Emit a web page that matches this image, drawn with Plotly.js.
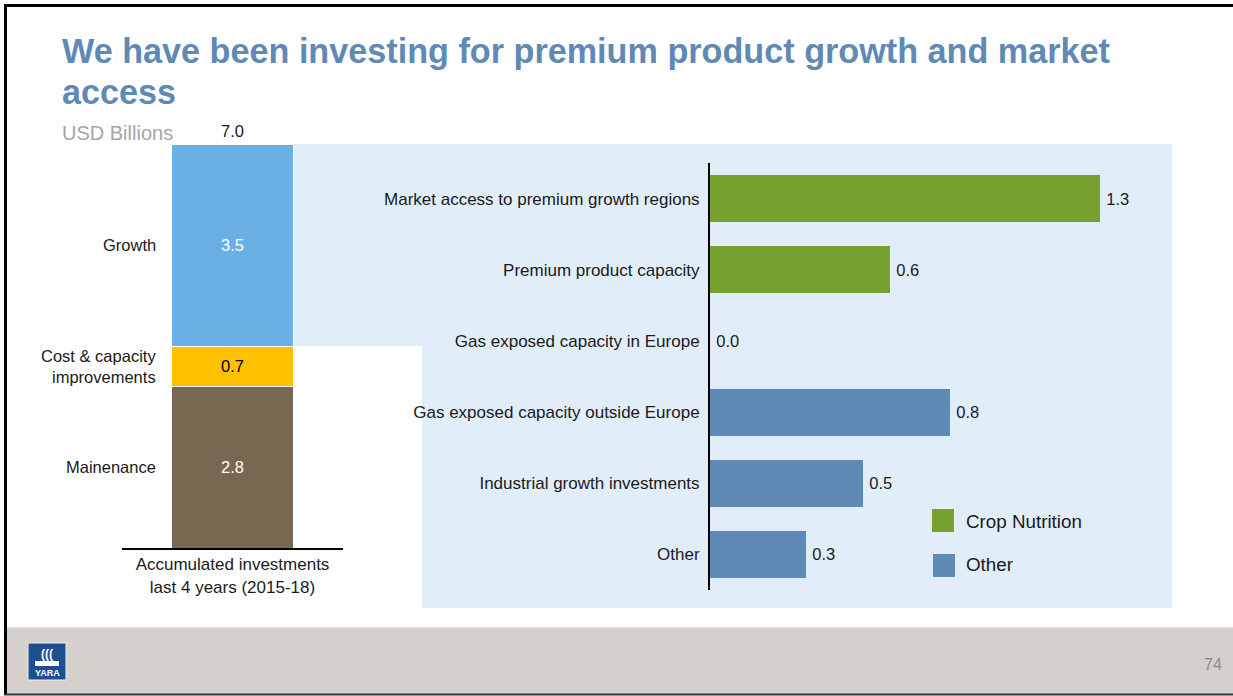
<!DOCTYPE html>
<html>
<head>
<meta charset="utf-8">
<script src="https://cdn.plot.ly/plotly-3.0.1.min.js"></script>
<style>
  html, body { margin: 0; padding: 0; background: #ffffff; }
  #chart { width: 1233px; height: 696px; }
</style>
</head>
<body>
<div id="chart"></div>
<script>
// ---------- Data ----------
const titleLines = ['We have been investing for premium product growth and market', 'access'];
const stackCategory = ['Accumulated investments<br>last 4 years (2015-18)'];
const stackNames = ['Mainenance', 'Cost & capacity<br>improvements', 'Growth'];
const stackValues = [2.8, 0.7, 3.5];
const stackColors = ['#7a6751', '#ffc000', '#6ab0e4'];
const stackTextColors = ['#ffffff', '#000000', '#ffffff'];

const barCategories = [
  'Market access to premium growth regions',
  'Premium product capacity',
  'Gas exposed capacity in Europe',
  'Gas exposed capacity outside Europe',
  'Industrial growth investments',
  'Other'
];
const cropCategories = ['Market access to premium growth regions', 'Premium product capacity'];
const cropValues = [1.30, 0.60];
const otherCategories = ['Gas exposed capacity in Europe', 'Gas exposed capacity outside Europe', 'Industrial growth investments', 'Other'];
const otherValues = [0.0, 0.80, 0.51, 0.32];
const legendNames = ['Crop Nutrition', 'Other'];

// ---------- Helpers (pixel -> paper) ----------
const W = 1233, H = 696;
const px = x => x / W;
const py = y => 1 - y / H;
const FONT = 'Liberation Sans, Arial, sans-serif';
const TXT = '#1a1a1a';

// ---------- Traces ----------
const traces = [];
stackValues.forEach((v, i) => {
  traces.push({
    type: 'bar', x: stackCategory, y: [v], name: stackNames[i],
    xaxis: 'x2', yaxis: 'y2', width: 0.552,
    marker: { color: stackColors[i], line: { color: '#ffffff', width: 1 } },
    text: [v.toFixed(1)], textposition: 'inside', insidetextanchor: 'middle',
    textangle: 0,
    textfont: { family: FONT, size: 16.5, color: stackTextColors[i] },
    showlegend: false, hoverinfo: 'skip'
  });
});
traces.push({
  type: 'bar', orientation: 'h', y: cropCategories, x: cropValues, name: legendNames[0],
  xaxis: 'x', yaxis: 'y', width: 0.66,
  marker: { color: '#78a22f' },
  texttemplate: '\u2009%{x:.1f}', textposition: 'outside', cliponaxis: false,
  textfont: { family: FONT, size: 16.5, color: TXT },
  showlegend: false, hoverinfo: 'skip'
});
traces.push({
  type: 'bar', orientation: 'h', y: otherCategories, x: otherValues, name: legendNames[1],
  xaxis: 'x', yaxis: 'y', width: 0.66,
  marker: { color: '#5f8ab5' },
  texttemplate: '\u2009%{x:.1f}', textposition: 'outside', cliponaxis: false,
  textfont: { family: FONT, size: 16.5, color: TXT },
  showlegend: false, hoverinfo: 'skip'
});

// ---------- Annotations ----------
const annotations = [];
// title (two lines)
annotations.push({
  xref: 'paper', yref: 'paper', x: px(60), y: py(51),
  xanchor: 'left', yanchor: 'middle', showarrow: false,
  text: '<b>' + titleLines[0] + '</b>', font: { family: FONT, size: 34.2, color: '#5f8ab5' }
});
annotations.push({
  xref: 'paper', yref: 'paper', x: px(60), y: py(92),
  xanchor: 'left', yanchor: 'middle', showarrow: false,
  text: '<b>' + titleLines[1] + '</b>', font: { family: FONT, size: 34.2, color: '#5f8ab5' }
});
// left stacked category labels
let cum = 0;
stackValues.forEach((v, i) => {
  annotations.push({
    xref: 'paper', yref: 'y2', x: px(158), y: cum + v / 2,
    xanchor: 'right', yanchor: 'middle', showarrow: false, align: 'right',
    text: stackNames[i], font: { family: FONT, size: 16.5, color: TXT }
  });
  cum += v;
});
// total
const total = stackValues.reduce((a, b) => a + b, 0);
annotations.push({
  xref: 'x2', yref: 'y2', x: stackCategory[0], y: total,
  xanchor: 'center', yanchor: 'bottom', yshift: 2, showarrow: false,
  text: total.toFixed(1), font: { family: FONT, size: 16.5, color: TXT }
});
// units
annotations.push({
  xref: 'paper', yref: 'paper', x: px(60), y: py(133),
  xanchor: 'left', yanchor: 'middle', showarrow: false,
  text: 'USD Billions', font: { family: FONT, size: 20, color: '#a6a6a6' }
});
// legend texts
annotations.push({
  xref: 'paper', yref: 'paper', x: px(964), y: py(521),
  xanchor: 'left', yanchor: 'middle', showarrow: false,
  text: legendNames[0], font: { family: FONT, size: 18.8, color: TXT }
});
annotations.push({
  xref: 'paper', yref: 'paper', x: px(964), y: py(564),
  xanchor: 'left', yanchor: 'middle', showarrow: false,
  text: legendNames[1], font: { family: FONT, size: 18.8, color: TXT }
});
// page number
annotations.push({
  xref: 'paper', yref: 'paper', x: px(1213), y: py(664),
  xanchor: 'center', yanchor: 'middle', showarrow: false,
  text: '74', font: { family: 'Liberation Sans Narrow, ' + FONT, size: 16, color: '#8c8c8c' }
});
// logo text
annotations.push({
  xref: 'paper', yref: 'paper', x: px(47), y: py(654),
  xanchor: 'center', yanchor: 'middle', showarrow: false,
  text: '<b>(((</b>', font: { family: FONT, size: 12, color: '#ffffff' }
});
annotations.push({
  xref: 'paper', yref: 'paper', x: px(47), y: py(673),
  xanchor: 'center', yanchor: 'middle', showarrow: false,
  text: '<b>YARA</b>', font: { family: FONT, size: 9, color: '#ffffff' }
});

// ---------- Shapes ----------
const shapes = [
  // light-blue panel
  { type: 'rect', xref: 'paper', yref: 'paper', x0: px(293), x1: px(1172), y0: py(346), y1: py(144),
    fillcolor: '#e1eef9', line: { width: 0 }, layer: 'below' },
  { type: 'rect', xref: 'paper', yref: 'paper', x0: px(422), x1: px(1172), y0: py(608), y1: py(346),
    fillcolor: '#e1eef9', line: { width: 0 }, layer: 'below' },
  // footer band
  { type: 'rect', xref: 'paper', yref: 'paper', x0: px(5), x1: 1, y0: py(694), y1: py(627),
    fillcolor: '#d6d0cc', line: { width: 0 }, layer: 'below' },
  { type: 'line', xref: 'paper', yref: 'paper', x0: px(5), x1: 1, y0: py(627.5), y1: py(627.5),
    line: { color: '#e6e2df', width: 1 }, layer: 'below' },
  // slide frame
  { type: 'line', xref: 'paper', yref: 'paper', x0: px(5.5), x1: px(5.5), y0: py(4), y1: py(695),
    line: { color: '#000000', width: 3 } },
  { type: 'line', xref: 'paper', yref: 'paper', x0: px(4), x1: 1, y0: py(5.5), y1: py(5.5),
    line: { color: '#000000', width: 3 } },
  { type: 'line', xref: 'paper', yref: 'paper', x0: px(4), x1: 1, y0: py(694.5), y1: py(694.5),
    line: { color: '#333333', width: 2 } },
  // logo box
  { type: 'rect', xref: 'paper', yref: 'paper', x0: px(28), x1: px(66), y0: py(680), y1: py(643),
    fillcolor: '#1d4f91', line: { color: '#f0f0f0', width: 1 } },
  { type: 'rect', xref: 'paper', yref: 'paper', x0: px(35), x1: px(59), y0: py(666), y1: py(661),
    fillcolor: '#ffffff', line: { width: 0 } },
  // legend swatches
  { type: 'rect', xref: 'paper', yref: 'paper', x0: px(932), x1: px(954), y0: py(532), y1: py(509),
    fillcolor: '#78a22f', line: { width: 0 } },
  { type: 'rect', xref: 'paper', yref: 'paper', x0: px(933), x1: px(955), y0: py(577), y1: py(554),
    fillcolor: '#5f8ab5', line: { width: 0 } }
];

// ---------- Layout ----------
const layout = {
  width: W, height: H,
  margin: { l: 0, r: 0, t: 0, b: 0 },
  paper_bgcolor: '#ffffff', plot_bgcolor: 'rgba(0,0,0,0)',
  barmode: 'stack', bargap: 0,
  font: { family: FONT, size: 16, color: TXT },
  xaxis: {
    domain: [px(710), px(1172)], range: [0, 1.54], anchor: 'y',
    showgrid: false, zeroline: false, showticklabels: false, showline: false, ticks: ''
  },
  yaxis: {
    domain: [py(590), py(163)], anchor: 'x', type: 'category',
    categoryorder: 'array', categoryarray: barCategories, range: [5.5, -0.5],
    showgrid: false, zeroline: false, showline: true, linecolor: '#000000', linewidth: 2,
    ticks: '', ticklabelstandoff: 5,
    tickfont: { family: FONT, size: 17, color: TXT }
  },
  xaxis2: {
    domain: [px(122), px(343)], range: [-0.5, 0.5], anchor: 'y2', type: 'category',
    showgrid: false, zeroline: false, showline: true, linecolor: '#000000', linewidth: 2,
    ticks: '', tickfont: { family: FONT, size: 17, color: TXT }
  },
  yaxis2: {
    domain: [py(548), py(144)], range: [0, 7], anchor: 'x2',
    visible: false, showgrid: false, zeroline: false
  },
  shapes: shapes,
  annotations: annotations
};

Plotly.newPlot('chart', traces, layout, { staticPlot: true, displayModeBar: false });
</script>
</body>
</html>
